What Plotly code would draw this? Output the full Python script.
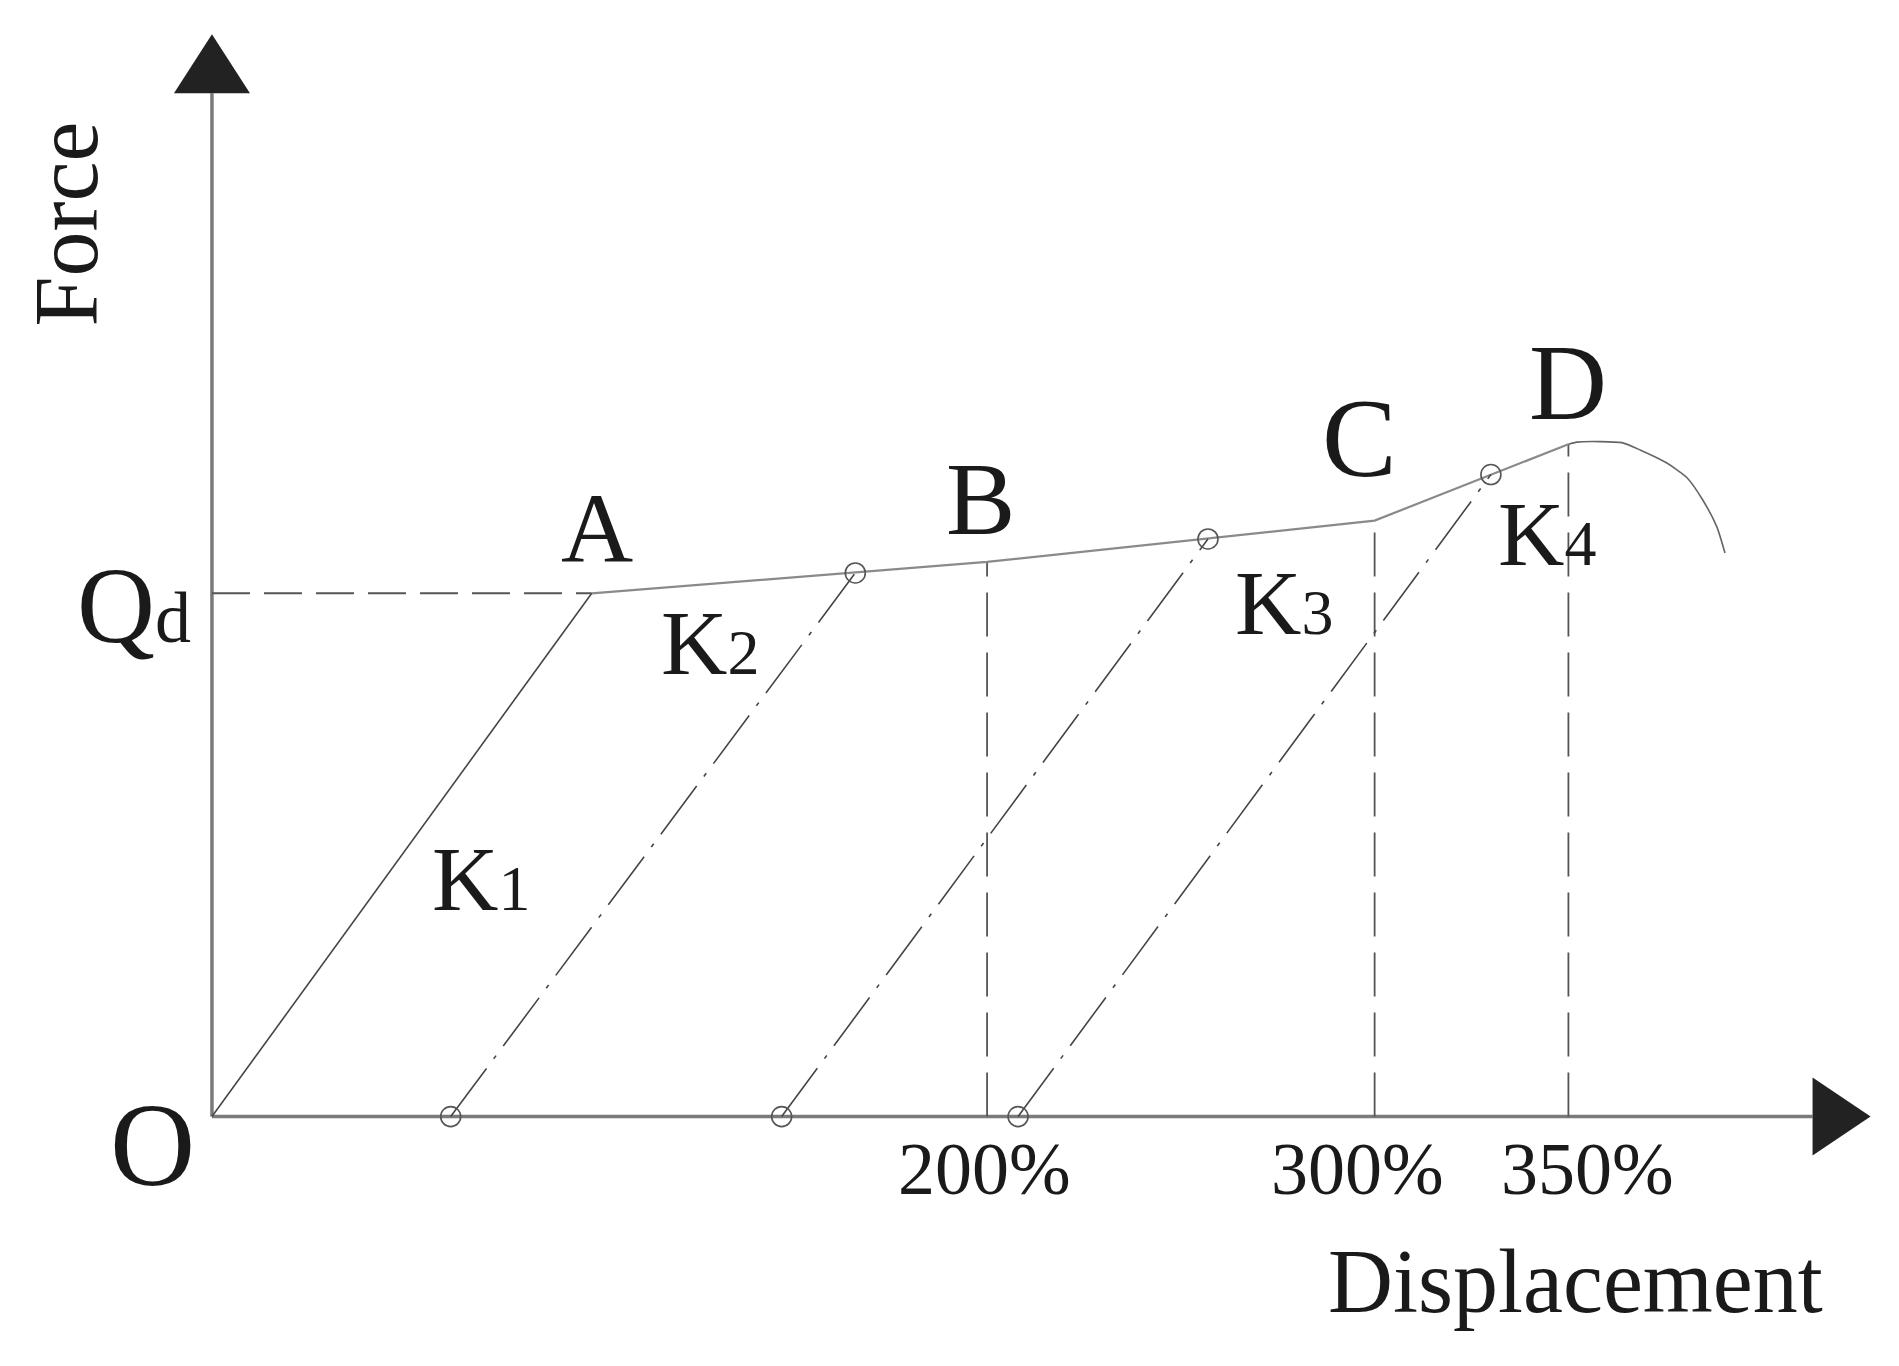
import plotly.graph_objects as go

# ---------------- data (displacement in %, force normalised so that Qd = 1) ----------------
backbone_x = [0, 98, 200, 300, 350]
backbone_f = [0.0, 1.00, 1.06, 1.139, 1.285]
post_peak_x = [350, 352.2, 358, 363.8, 368.5, 375.4, 380.6, 384.7, 388.3, 390.4]
post_peak_f = [1.285, 1.289, 1.290, 1.288, 1.274, 1.249, 1.221, 1.178, 1.127, 1.077]
unload_start_x = [61.6, 147, 208]      # circles on the displacement axis
unload_end_x = [166, 257, 330]         # circles on the backbone
unload_end_f = [1.039, 1.104, 1.227]
qd_value = 1.0
tick_values = [200, 300, 350]
tick_labels = ["200%", "300%", "350%"]
point_labels = ["A", "B", "C", "D"]
axis_end_x = 413
axis_end_f = 1.956

FONT = "Liberation Serif"
AX_COL = "#7a7a7a"
LINE_COL = "#454545"

fig = go.Figure()

# axes lines
fig.add_trace(go.Scatter(x=[0, axis_end_x], y=[0, 0], mode="lines",
                         line=dict(color=AX_COL, width=3.5), hoverinfo="skip"))
fig.add_trace(go.Scatter(x=[0, 0], y=[0, axis_end_f], mode="lines",
                         line=dict(color=AX_COL, width=3.5), hoverinfo="skip"))

# Qd dashed line
fig.add_trace(go.Scatter(x=[0, backbone_x[1]], y=[qd_value, qd_value], mode="lines",
                         line=dict(color="#555555", width=2, dash="38px,14px"), hoverinfo="skip"))

# vertical dashed lines at tick values
for xv in tick_values:
    fv = backbone_f[backbone_x.index(xv)]
    fig.add_trace(go.Scatter(x=[xv, xv], y=[0, fv], mode="lines",
                             line=dict(color="#555555", width=1.8, dash="44px,16px"), hoverinfo="skip"))

# K1 loading line O -> A
fig.add_trace(go.Scatter(x=backbone_x[:2], y=backbone_f[:2], mode="lines",
                         line=dict(color=LINE_COL, width=1.6), hoverinfo="skip"))
# backbone A -> D
fig.add_trace(go.Scatter(x=backbone_x[1:], y=backbone_f[1:], mode="lines",
                         line=dict(color="#8a8a8a", width=2.2), hoverinfo="skip"))
# post-peak curve
fig.add_trace(go.Scatter(x=post_peak_x, y=post_peak_f, mode="lines",
                         line=dict(color="#666666", width=1.6, shape="spline", smoothing=0.6),
                         hoverinfo="skip"))

# unloading / reloading lines (dash-dot)
for xs, xe, fe in zip(unload_start_x, unload_end_x, unload_end_f):
    fig.add_trace(go.Scatter(x=[xs, xe], y=[0, fe], mode="lines",
                             line=dict(color=LINE_COL, width=1.6, dash="60px,12px,4px,12px"),
                             hoverinfo="skip"))

# circles
fig.add_trace(go.Scatter(x=unload_start_x + unload_end_x,
                         y=[0] * len(unload_start_x) + unload_end_f,
                         mode="markers",
                         marker=dict(symbol="circle-open", size=20, color="#555555",
                                     line=dict(width=1.6, color="#555555")),
                         hoverinfo="skip"))

# arrowheads (pixel sized shapes anchored on the axis ends)
fig.add_shape(type="path", xref="x", yref="y", xsizemode="pixel", ysizemode="pixel",
              xanchor=0, yanchor=axis_end_f, path="M-38,0 L38,0 L0,59 Z",
              fillcolor="#222222", line=dict(width=0))
fig.add_shape(type="path", xref="x", yref="y", xsizemode="pixel", ysizemode="pixel",
              xanchor=axis_end_x, yanchor=0, path="M0,-39 L0,39 L58,0 Z",
              fillcolor="#222222", line=dict(width=0))

ann = []
def txt(x, y, text, size, **kw):
    d = dict(x=x, y=y, xref="x", yref="y", text=text, showarrow=False,
             font=dict(family=FONT, size=size, color="#1a1a1a"),
             xanchor="center", yanchor="middle")
    d.update(kw)
    ann.append(d)

txt(-37.5, 1.706, "Force", 90, textangle=-90)
txt(-20, 0.977, 'Q<span style="font-size:72px">d</span>', 108)
txt(-15.3, -0.055, "O", 118)
label_pos = [(99.4, 1.123, 100), (198.4, 1.181, 104), (296, 1.296, 112), (350, 1.403, 108)]
for lab, (lx, ly, ls) in zip(point_labels, label_pos):
    txt(lx, ly, lab, ls)
k_pos = [(69.4, 0.454), (128.4, 0.905), (276.6, 0.981), (344.4, 1.113)]
for i, (kx, ky) in enumerate(k_pos):
    txt(kx, ky, 'K<span style="font-size:64px">%d</span>' % (i + 1), 92)
tick_label_x = [199.4, 295.6, 355]
for lx, lab in zip(tick_label_x, tick_labels):
    txt(lx, -0.10, lab, 74)
txt(351.9, -0.315, "Displacement", 90)

fig.update_layout(
    width=1899, height=1366, autosize=False,
    margin=dict(l=0, r=0, t=0, b=0, pad=0),
    paper_bgcolor="white", plot_bgcolor="white",
    showlegend=False,
    xaxis=dict(range=[-54.69, 435.3], visible=False, fixedrange=True),
    yaxis=dict(range=[-0.4767, 2.134], visible=False, fixedrange=True),
    annotations=ann,
)

fig.write_html("out.html", config={"displayModeBar": False},
               post_script="document.body.style.margin='0';")
